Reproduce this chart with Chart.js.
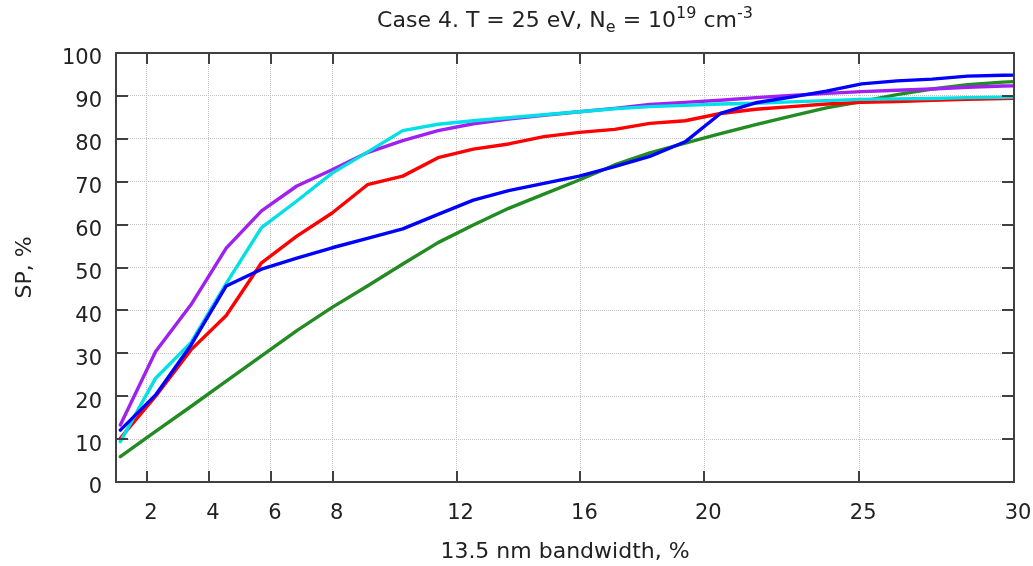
<!DOCTYPE html>
<html>
<head>
<meta charset="utf-8">
<script src="https://cdn.jsdelivr.net/npm/chart.js@4/dist/chart.umd.min.js"></script>
<style>
  html, body { margin: 0; padding: 0; background: #fff; }
  #wrap { width: 1033px; height: 566px; position: relative; }
</style>
</head>
<body>
<div id="wrap"><canvas id="c" width="1033" height="566"></canvas></div>
<script>
// Bandwidth grid (%), shared by all curves
const bandwidth = [1.14, 2.28, 3.42, 4.56, 5.70, 6.84, 7.98, 9.12, 10.26, 11.40, 12.54, 13.68, 14.82,
  15.96, 17.10, 18.24, 19.38, 20.52, 21.66, 22.80, 23.94, 25.08, 26.22, 27.36, 28.50, 29.64, 30.78];

// Spectral purity SP (%) for each curve
const spBlue   = [12.1, 20.3, 31.9, 45.7, 49.6, 52.2, 54.6, 56.8, 59.0, 62.4, 65.7, 67.9, 69.6,
  71.3, 73.5, 75.9, 79.3, 85.9, 88.4, 89.7, 91.1, 92.8, 93.5, 93.9, 94.6, 94.8, 94.9];
const spCyan   = [9.4, 24.2, 32.5, 46.3, 59.3, 65.5, 72.0, 76.9, 81.9, 83.4, 84.2, 84.9, 85.6,
  86.3, 87.0, 87.5, 87.8, 88.1, 88.3, 88.6, 88.9, 89.2, 89.3, 89.4, 89.6, 89.7, 89.8];
const spPurple = [13.3, 30.4, 41.3, 54.5, 63.2, 69.0, 72.8, 76.8, 79.6, 81.9, 83.5, 84.6, 85.5,
  86.3, 87.1, 88.0, 88.5, 89.0, 89.6, 90.1, 90.6, 91.0, 91.3, 91.6, 92.0, 92.3, 92.4];
const spRed    = [10.2, 20.0, 30.8, 38.8, 51.1, 57.3, 62.7, 69.3, 71.3, 75.6, 77.6, 78.8, 80.5,
  81.5, 82.2, 83.6, 84.2, 85.9, 86.9, 87.5, 88.1, 88.5, 88.7, 89.0, 89.2, 89.4, 89.6];
const spGreen  = [5.9, 11.8, 17.6, 23.5, 29.4, 35.3, 40.7, 45.7, 50.8, 55.8, 59.9, 63.8, 67.1,
  70.4, 73.9, 76.7, 79.0, 81.2, 83.3, 85.3, 87.2, 88.7, 90.3, 91.6, 92.6, 93.2, 93.6];

// Axis tick values
const xTickValues = [2, 4, 6, 8, 12, 16, 20, 25, 30];
const yTickValues = [0, 10, 20, 30, 40, 50, 60, 70, 80, 90, 100];

const FONT = 'DejaVu Sans';
const TEXT = '#222';
const FRAME = '#404040';
const GRID = '#c4c4c4';

function pts(ys) { return bandwidth.map((x, i) => ({ x: x, y: ys[i] })); }
function line(data, color) {
  return { data: pts(data), borderColor: color, backgroundColor: color, borderWidth: 3.4,
    pointRadius: 0, tension: 0, fill: false, borderJoinStyle: 'round', borderCapStyle: 'round' };
}

// Title with subscript / superscripts, drawn as real text
const titlePlugin = {
  id: 'richTitle',
  afterDraw(chart) {
    const ctx = chart.ctx;
    const size = 22, small = 16;
    const parts = [
      { t: 'Case 4. T = 25 eV, N', s: size, dy: 0 },
      { t: 'e', s: small, dy: 5 },
      { t: ' = 10', s: size, dy: 0 },
      { t: '19', s: small, dy: -9 },
      { t: ' cm', s: size, dy: 0 },
      { t: '-3', s: small, dy: -9 }
    ];
    ctx.save();
    ctx.fillStyle = TEXT;
    ctx.textBaseline = 'alphabetic';
    let total = 0;
    parts.forEach(p => { ctx.font = p.s + 'px "' + FONT + '"'; p.w = ctx.measureText(p.t).width; total += p.w; });
    const cx = (chart.chartArea.left + chart.chartArea.right) / 2;
    let x = cx - total / 2;
    const base = 27;
    parts.forEach(p => {
      ctx.font = p.s + 'px "' + FONT + '"';
      ctx.fillText(p.t, x, base + p.dy);
      x += p.w;
    });
    ctx.restore();
  }
};

// Closed frame with inward tick marks on all four sides
const framePlugin = {
  id: 'frame',
  afterDatasetsDraw(chart) {
    const { ctx, chartArea: a, scales } = chart;
    ctx.save();
    ctx.strokeStyle = FRAME;
    ctx.lineWidth = 2;
    ctx.beginPath();
    xTickValues.forEach(v => {
      const px = Math.round(scales.x.getPixelForValue(v));
      ctx.moveTo(px, a.bottom); ctx.lineTo(px, a.bottom - 11);
      ctx.moveTo(px, a.top); ctx.lineTo(px, a.top + 11);
    });
    yTickValues.forEach(v => {
      const py = Math.round(scales.y.getPixelForValue(v));
      ctx.moveTo(a.left, py); ctx.lineTo(a.left + 12, py);
      ctx.moveTo(a.right, py); ctx.lineTo(a.right - 12, py);
    });
    ctx.stroke();
    ctx.strokeRect(a.left, a.top, a.right - a.left, a.bottom - a.top);
    ctx.restore();
  }
};

new Chart(document.getElementById('c'), {
  type: 'line',
  data: {
    datasets: [
      line(spBlue, '#0000ff'),
      line(spCyan, '#00e0e6'),
      line(spPurple, '#a020f0'),
      line(spRed, '#ff0000'),
      line(spGreen, '#228b22')
    ]
  },
  options: {
    responsive: false,
    animation: false,
    devicePixelRatio: 1,
    layout: { padding: { top: 53, right: 19, bottom: 0, left: 0 } },
    plugins: { legend: { display: false }, tooltip: { enabled: false }, title: { display: false } },
    scales: {
      x: {
        type: 'linear', min: 1, max: 30,
        afterBuildTicks(scale) { scale.ticks = xTickValues.map(v => ({ value: v })); },
        afterFit(scale) { scale.height = 84; scale.paddingLeft = 0; scale.paddingRight = 0; },
        grid: { color: GRID, lineWidth: 1, drawTicks: false },
        border: { display: false, dash: [1, 1] },
        ticks: { font: { family: FONT, size: 21 }, color: TEXT, padding: 19, labelOffset: 4, maxRotation: 0, autoSkip: false },
        title: { display: true, text: '13.5 nm bandwidth, %', font: { family: FONT, size: 22 }, color: TEXT, padding: { top: 0, bottom: 1 } }
      },
      y: {
        type: 'linear', min: 0, max: 100,
        afterBuildTicks(scale) { scale.ticks = yTickValues.map(v => ({ value: v })); },
        afterFit(scale) { scale.width = 116; scale.paddingTop = 0; scale.paddingBottom = 0; },
        grid: { color: GRID, lineWidth: 1, drawTicks: false },
        border: { display: false, dash: [1, 1] },
        ticks: { font: { family: FONT, size: 21 }, color: TEXT, padding: 14, labelOffset: 6 },
        title: { display: true, text: 'SP, %', font: { family: FONT, size: 22 }, color: TEXT, padding: { top: 12, bottom: 0 } }
      }
    }
  },
  plugins: [titlePlugin, framePlugin]
});
</script>
</body>
</html>
